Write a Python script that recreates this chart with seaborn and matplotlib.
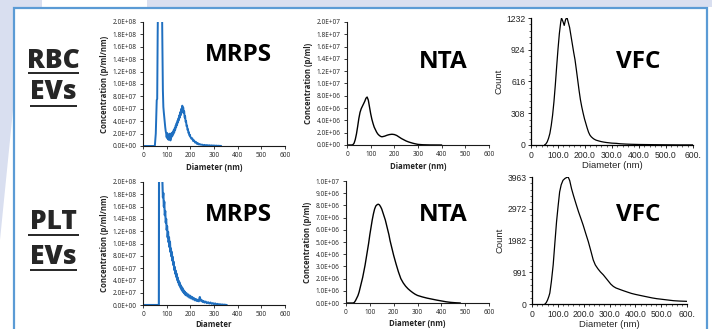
import matplotlib
matplotlib.use("Agg")
import matplotlib.pyplot as plt
import seaborn as sns
import pandas as pd
from matplotlib.ticker import FixedLocator, FuncFormatter, AutoMinorLocator
from matplotlib.patches import Rectangle, Polygon

# ---------------- data ----------------
# MRPS RBC EVs (concentration in 1e7 p/ml/nm)
mrps_rbc_x = [0, 50, 54, 58, 60, 62, 64, 68, 72, 76, 80, 82, 84, 86, 88, 90, 92, 94, 96, 98,
              100, 102, 104, 106, 108, 110, 112, 114, 116, 118, 120, 122, 124, 126, 128, 130,
              132, 134, 136, 138, 140, 142, 144, 146, 148, 150, 152, 154, 156, 158, 160, 162,
              164, 166, 168, 170, 172, 174, 176, 178, 180, 182, 184, 186, 188, 190, 192, 194,
              196, 198, 200, 204, 208, 212, 216, 220, 224, 228, 232, 236, 240, 245, 250, 255,
              260, 265, 270, 275, 280, 285, 290, 295, 300, 305, 310, 315, 320, 325, 330]
mrps_rbc_y = [0, 0, 2.0, 7.4, 7.6, 18, 26, 32, 34, 30, 24, 16, 9.0, 6.3, 5.4, 4.6, 3.8, 3.0, 2.4, 2.0,
              1.4, 2.1, 1.2, 1.9, 1.0, 1.7, 1.3, 2.0, 0.9, 1.8, 1.4, 2.1, 1.6, 2.3, 1.9, 2.6,
              2.2, 2.9, 2.6, 3.3, 3.0, 3.7, 3.4, 4.1, 3.8, 4.5, 4.2, 5.0, 4.6, 5.5, 5.0, 6.0,
              5.4, 6.5, 5.8, 6.2, 5.3, 5.6, 4.6, 4.8, 3.9, 4.0, 3.2, 3.3, 2.6, 2.7, 2.1, 2.2,
              1.7, 1.8, 1.5, 1.2, 1.25, 0.8, 0.9, 0.55, 0.65, 0.35, 0.45, 0.25, 0.3, 0.2, 0.22, 0.12,
              0.18, 0.1, 0.15, 0.08, 0.12, 0.06, 0.1, 0.05, 0.08, 0.03, 0.06, 0.02, 0.04, 0.01, 0.02]

# MRPS PLT EVs (1e7 p/ml/nm)
mrps_plt_x = [0, 66, 67, 68, 72, 76, 80, 82, 84, 86, 88, 90, 92, 94, 96, 98, 100, 102, 104, 106,
              108, 110, 112, 114, 116, 118, 120, 122, 124, 126, 128, 130, 132, 134, 136, 138,
              140, 142, 144, 146, 148, 150, 152, 154, 156, 158, 160, 162, 164, 166, 168, 170,
              172, 174, 176, 178, 180, 184, 188, 192, 196, 200, 204, 208, 212, 216, 220, 224,
              228, 232, 236, 240, 244, 248, 252, 256, 260, 265, 270, 275, 280, 285, 290, 295,
              300, 305, 310, 315, 320, 325, 330, 335, 340, 345, 350, 354]
mrps_plt_y = [0, 0, 0, 30, 32, 30, 24, 20, 17.5, 18.2, 16.0, 16.8, 14.6, 15.3, 13.4, 14.0, 12.2, 12.8, 11.0, 11.9,
              10.2, 11.0, 9.4, 10.3, 8.6, 9.2, 7.9, 8.6, 7.2, 7.8, 6.5, 7.0, 5.7, 6.2, 5.1, 5.6,
              4.6, 5.1, 4.1, 4.5, 3.7, 4.0, 3.3, 3.7, 3.0, 3.3, 2.7, 3.0, 2.4, 2.8, 2.2, 2.5,
              2.0, 2.3, 1.8, 2.1, 1.6, 1.9, 1.4, 1.7, 1.2, 1.5, 1.05, 1.3, 0.9, 1.1, 0.75, 0.95,
              0.65, 0.85, 0.6, 1.3, 0.7, 0.8, 0.5, 0.65, 0.4, 0.55, 0.3, 0.45, 0.25, 0.4, 0.2, 0.3,
              0.15, 0.25, 0.1, 0.18, 0.08, 0.12, 0.05, 0.08, 0.03, 0.05, 0.01, 0.0]

# NTA RBC EVs (1e6 p/ml)
nta_rbc_x = [0, 20, 25, 30, 35, 40, 45, 50, 55, 60, 65, 70, 75, 80, 85, 90, 95, 100, 105, 110,
             115, 120, 125, 130, 135, 140, 145, 150, 160, 170, 180, 190, 200, 210, 220, 230,
             240, 250, 260, 270, 280, 290, 300, 320, 350, 400]
nta_rbc_y = [0, 0, 0.05, 0.3, 0.9, 1.8, 3.0, 4.3, 5.3, 5.9, 6.3, 6.7, 7.1, 7.6, 7.8, 7.3, 6.2, 5.1, 4.2, 3.5,
             2.9, 2.5, 2.1, 1.8, 1.6, 1.45, 1.35, 1.35, 1.45, 1.6, 1.7, 1.75, 1.7, 1.55, 1.3, 1.05,
             0.85, 0.65, 0.5, 0.38, 0.27, 0.18, 0.1, 0.04, 0.01, 0.0]

# NTA PLT EVs (1e6 p/ml)
nta_plt_x = [0, 30, 35, 40, 45, 50, 55, 60, 65, 70, 75, 80, 85, 90, 95, 100, 105, 110, 115, 120,
             125, 130, 135, 140, 145, 150, 155, 160, 165, 170, 175, 180, 185, 190, 195, 200,
             210, 220, 230, 240, 250, 260, 270, 280, 290, 300, 320, 340, 360, 380, 400, 420,
             440, 460, 480]
nta_plt_y = [0, 0, 0.05, 0.2, 0.4, 0.6, 0.9, 1.3, 1.7, 2.1, 2.6, 3.1, 3.7, 4.3, 4.9, 5.6, 6.2, 6.8, 7.3, 7.7,
             7.95, 8.05, 8.1, 8.05, 7.9, 7.7, 7.4, 7.1, 6.8, 6.4, 6.0, 5.6, 5.1, 4.7, 4.3, 3.9,
             3.2, 2.55, 2.0, 1.65, 1.38, 1.17, 1.0, 0.85, 0.72, 0.62, 0.5, 0.4, 0.32, 0.24, 0.17, 0.1,
             0.05, 0.02, 0.0]

# VFC RBC EVs (count)
vfc_rbc_x = [50, 55, 60, 65, 70, 75, 80, 85, 90, 95, 100, 105, 110, 113, 118, 123, 128, 133, 138, 143,
             148, 153, 158, 163, 168, 173, 178, 183, 188, 193, 198, 203, 208, 213, 218, 223, 228,
             233, 240, 250, 260, 270, 280, 290, 300, 316, 330, 350, 370, 400, 430, 460, 500, 550, 600]
vfc_rbc_y = [0, 10, 30, 65, 113, 190, 290, 420, 580, 760, 930, 1080, 1190, 1232, 1200, 1160, 1215, 1240, 1190, 1140,
             1060, 980, 900, 827, 730, 630, 530, 440, 370, 310, 255, 210, 165, 125, 97, 80, 68,
             58, 48, 40, 33, 28, 24, 21, 18, 16, 12, 9, 7, 5, 4, 3, 2, 1, 1]

# VFC PLT EVs (count)
vfc_plt_x = [50, 55, 60, 65, 69, 75, 82, 88, 95, 101, 107, 113, 120, 128, 135, 140, 146, 153, 160, 166,
             172, 180, 190, 198, 208, 218, 228, 237, 245, 255, 265, 276, 285, 295, 305, 315, 325,
             335, 345, 354, 370, 385, 400, 418, 435, 450, 465, 483, 500, 520, 548, 570, 600]
vfc_plt_y = [0, 40, 120, 230, 341, 700, 1221, 1850, 2566, 3050, 3497, 3720, 3860, 3920, 3950, 3963, 3850, 3600, 3400, 3240,
             3083, 2880, 2650, 2462, 2200, 1945, 1650, 1376, 1220, 1100, 1000, 910, 820, 720, 620, 548, 500,
             470, 440, 414, 370, 330, 300, 269, 240, 215, 190, 166, 150, 130, 103, 92, 83]

x_ticks = [0, 100, 200, 300, 400, 500, 600]
vfc_x_labels = ["0", "100.0", "200.0", "300.0", "400.0", "500.0", "600."]
vfc_rbc_yticks = [0, 308, 616, 924, 1232]
vfc_plt_yticks = [0, 991, 1982, 2972, 3963]

row_names = [("RBC", "EVs"), ("PLT", "EVs")]
method_names = ["MRPS", "NTA", "VFC"]

# ---------------- style ----------------
sns.set_style("ticks")
plt.rcParams["font.family"] = ["Open Sans", "DejaVu Sans"]

W, H = 712, 329
fig = plt.figure(figsize=(W / 100, H / 100), dpi=100)
fig.patch.set_facecolor("white")

# background layer in pixel coordinates
bg = fig.add_axes([0, 0, 1, 1], zorder=-5)
bg.set_xlim(0, W)
bg.set_ylim(H, 0)
bg.axis("off")
lav = "#d9dff0"
bg.add_patch(Rectangle((0, 0), W, 7, facecolor=lav, edgecolor="none"))
bg.add_patch(Rectangle((42, 0), 105, 7, facecolor="white", edgecolor="none"))
bg.add_patch(Polygon([(0, 0), (13, 0), (13, 110), (0, 240)], closed=True, facecolor=lav, edgecolor="none"))
bg.add_patch(Rectangle((13.5, 7.5), 693, 340, facecolor="white", edgecolor="#5b9bd5", lw=1.6))


def px_axes(left, right, top, bottom):
    return fig.add_axes([left / W, 1 - bottom / H, (right - left) / W, (bottom - top) / H])


def sci(v, pos):
    return f"{v:.1E}"


def style_excel(ax, ymax, ystep, ylabel, xlabel, xpad=3):
    ax.set_facecolor("none")
    ax.set_xlim(0, 600)
    ax.set_ylim(0, ymax)
    ax.xaxis.set_major_locator(FixedLocator(x_ticks))
    ax.set_xticklabels([str(t) for t in x_ticks])
    yt = [i * ystep for i in range(int(round(ymax / ystep)) + 1)]
    ax.yaxis.set_major_locator(FixedLocator(yt))
    ax.yaxis.set_major_formatter(FuncFormatter(sci))
    for s in ["top", "right"]:
        ax.spines[s].set_visible(False)
    for s in ["left", "bottom"]:
        ax.spines[s].set_color("#1a1a1a")
        ax.spines[s].set_linewidth(0.8)
    ax.tick_params(axis="both", direction="out", length=2, width=0.6, color="#1a1a1a",
                   labelsize=4.7, pad=2.5, labelcolor="#222222")
    ax.set_ylabel(ylabel, fontsize=5.6, fontweight="bold", labelpad=3, color="#222222")
    ax.set_xlabel(xlabel, fontsize=5.6, fontweight="bold", labelpad=xpad, color="#222222")


def style_vfc(ax, yticks):
    ax.set_facecolor("none")
    ax.set_xlim(0, 600)
    ax.set_ylim(0, yticks[-1])
    ax.xaxis.set_major_locator(FixedLocator(x_ticks))
    ax.set_xticklabels(vfc_x_labels)
    ax.yaxis.set_major_locator(FixedLocator(yticks))
    ax.set_yticklabels([str(t) for t in yticks])
    ax.xaxis.set_minor_locator(AutoMinorLocator(5))
    ax.yaxis.set_minor_locator(AutoMinorLocator(5))
    for s in ["top", "right"]:
        ax.spines[s].set_visible(False)
    for s in ["left", "bottom"]:
        ax.spines[s].set_color("black")
        ax.spines[s].set_linewidth(0.9)
    ax.tick_params(axis="both", which="major", direction="out", length=2.5, width=0.7,
                   labelsize=6.2, pad=1.5)
    ax.tick_params(axis="both", which="minor", direction="out", length=1.3, width=0.5)
    for lab in ax.get_xticklabels() + ax.get_yticklabels():
        lab.set_family("Liberation Sans")
    ax.set_ylabel("Count", fontsize=6.8, family="Liberation Sans", labelpad=2)
    ax.set_xlabel("Diameter (nm)", fontsize=6.8, family="Liberation Sans", labelpad=1)


blue = "#1f6fc0"

# Row 1 ------------------------------------------------
ax = px_axes(143, 285, 22, 146)
df = pd.DataFrame({"d": mrps_rbc_x, "c": [v * 1e7 for v in mrps_rbc_y]})
sns.lineplot(data=df, x="d", y="c", ax=ax, color=blue, lw=1.4)
style_excel(ax, 2e8, 2e7, "Concentration (p/ml/nm)", "Diameter (nm)")

ax = px_axes(347, 489, 22, 145)
df = pd.DataFrame({"d": nta_rbc_x, "c": [v * 1e6 for v in nta_rbc_y]})
sns.lineplot(data=df, x="d", y="c", ax=ax, color="black", lw=1.0)
style_excel(ax, 2e7, 2e6, "Concentration (p/ml)", "Diameter (nm)")

ax = px_axes(531, 693, 18, 145)
df = pd.DataFrame({"d": vfc_rbc_x, "c": vfc_rbc_y})
sns.lineplot(data=df, x="d", y="c", ax=ax, color="black", lw=0.9)
style_vfc(ax, vfc_rbc_yticks)

# Row 2 ------------------------------------------------
ax = px_axes(143, 285, 182, 305)
df = pd.DataFrame({"d": mrps_plt_x, "c": [v * 1e7 for v in mrps_plt_y]})
sns.lineplot(data=df, x="d", y="c", ax=ax, color=blue, lw=1.5)
style_excel(ax, 2e8, 2e7, "Concentration (p/ml/nm)", "Diameter", xpad=1.5)

ax = px_axes(346, 489, 181, 303)
df = pd.DataFrame({"d": nta_plt_x, "c": [v * 1e6 for v in nta_plt_y]})
sns.lineplot(data=df, x="d", y="c", ax=ax, color="black", lw=1.0)
style_excel(ax, 1e7, 1e6, "Concentration (p/ml)", "Diameter (nm)", xpad=2)

ax = px_axes(532, 687, 177, 304)
df = pd.DataFrame({"d": vfc_plt_x, "c": vfc_plt_y})
sns.lineplot(data=df, x="d", y="c", ax=ax, color="black", lw=0.9)
style_vfc(ax, vfc_plt_yticks)

# ---------------- big labels ----------------
dark = "#262626"
row_y = [(61, 92, 73, 106), (222, 257, 235, 270)]
for (t1, t2), (y1, y2, u1, u2) in zip(row_names, row_y):
    bg.text(53, y1, t1, fontsize=19, fontweight=800, color=dark, ha="center", va="center")
    bg.text(53, y2, t2, fontsize=19, fontweight=800, color=dark, ha="center", va="center")
    bg.plot([28, 79], [u1, u1], color=dark, lw=1.4, solid_capstyle="butt")
    bg.plot([30, 77], [u2, u2], color=dark, lw=1.4, solid_capstyle="butt")

method_x = [238, 443, 638]
for my in [55, 215]:
    for name, mx in zip(method_names, method_x):
        yy = my if name == "MRPS" else my + (7 if my == 55 else 0)
        bg.text(mx, yy, name, fontsize=17.5, fontweight="bold", color="black", ha="center", va="center")

fig.savefig("out.png", dpi=100, facecolor=fig.get_facecolor())
